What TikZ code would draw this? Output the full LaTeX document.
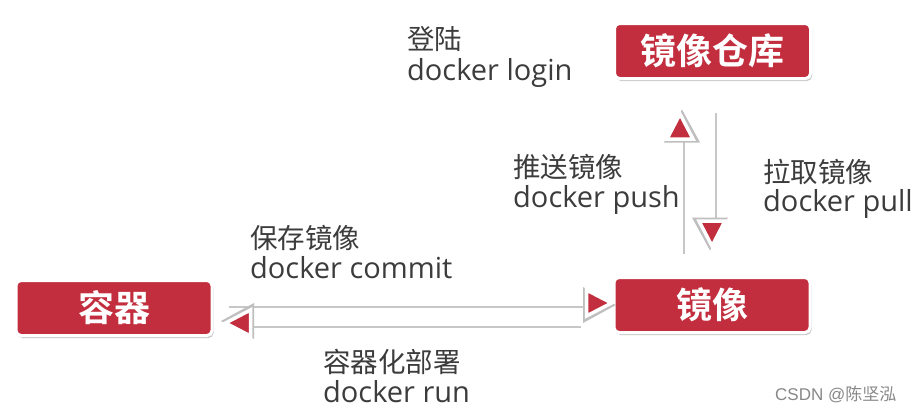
\documentclass[tikz,border=0pt]{standalone}
\usepackage{fontspec}
\setmainfont{Open Sans}
\newfontfamily\cjk{Noto Sans CJK SC}
\newfontfamily\cjkb{Noto Sans CJK SC Bold}
\newfontfamily\lsans{Liberation Sans}
\usetikzlibrary{shadows,calc}
\definecolor{boxred}{HTML}{C22E3E}
\definecolor{txt}{HTML}{3C3C3C}
\definecolor{wm}{HTML}{888888}
\newcommand{\zh}[1]{{\cjk\fontsize{27.5}{32}\selectfont #1}}
\tikzset{
  redbox/.style={rectangle, rounded corners=5pt, fill=boxred, draw=white, line width=3pt,
    minimum width=196pt, minimum height=55pt, inner sep=0pt, text=white,
    font=\cjkb\fontsize{36}{40}\selectfont,
    drop shadow={shadow xshift=1.5pt, shadow yshift=-2.5pt, opacity=0.35, fill=black!60}},
  lab/.style={anchor=base west, inner sep=0pt, text=txt, font=\fontsize{29}{32}\selectfont},
  shaftshadow/.style={line width=8.5pt, draw=black!22},
  shaft/.style={line width=6pt, draw=white},
  head/.pic={
    \fill[black!25] (1.5,-2) -- (-31.5,16) -- (-31.5,-20) -- cycle;
    \filldraw[fill=boxred, draw=white, line width=3.5pt, line join=miter] (-3,0) -- (-28,13) -- (-28,-13) -- cycle;
  }
}
\begin{document}
\begin{tikzpicture}[x=1pt,y=1pt]
\useasboundingbox[fill=white] (0,0) rectangle (920,-415);

% boxes
\node[redbox] (repo) at (712.5,-51) {镜像仓库};
\node[redbox] (cont) at (114,-308) {容器};
\node[redbox] (img)  at (712,-305) {镜像};

% arrow: commit (container -> image)
\coordinate (c1) at ($(cont.east)+(15,5)$);
\coordinate (c2) at ($(img.west)+(2,2)$);
\draw[shaftshadow] ($(c1)+(0,-1)$) -- ($(c2)+(-24,-1)$);
\draw[shaft] (c1) -- ($(c2)+(-24,0)$);
\pic at (c2) {head};

% arrow: run (image -> container)
\coordinate (r1) at ($(img.west)+(-32,-18)$);
\coordinate (r2) at ($(cont.east)+(9,-15)$);
\draw[shaftshadow] ($(r1)+(0,-1)$) -- ($(r2)+(24,-1)$);
\draw[shaft] (r1) -- ($(r2)+(24,0)$);
\pic[rotate=180] at (r2) {head};

% arrow: push (image -> repo)
\coordinate (p1) at ($(img.north)+(-32,22)$);
\coordinate (p2) at ($(repo.south)+(-32.5,-31)$);
\draw[shaftshadow] ($(p1)+(1,0)$) -- ($(p2)+(1,-24)$);
\draw[shaft] (p1) -- ($(p2)+(0,-24)$);
\pic[rotate=90] at (p2) {head};

% arrow: pull (repo -> image)
\coordinate (q1) at ($(repo.south)+(-0.5,-33)$);
\coordinate (q2) at ($(img.north)+(0,27)$);
\draw[shaftshadow] ($(q1)+(1,0)$) -- ($(q2)+(1,24)$);
\draw[shaft] (q1) -- ($(q2)+(0,24)$);
\pic[rotate=-90] at (q2) {head};

% labels
\node[lab] (l1a) at (407,-49) {\zh{登陆}};
\node[lab] (l1b) at (407,-80) {docker login};
\node[lab] (l2a) at (513,-177) {\zh{推送镜像}};
\node[lab] (l2b) at (513,-207) {docker push};
\node[lab] (l3a) at (763,-182) {\zh{拉取镜像}};
\node[lab] (l3b) at (763,-211) {docker pull};
\node[lab] (l4a) at (250,-248) {\zh{保存镜像}};
\node[lab] (l4b) at (250,-278) {docker commit};
\node[lab] (l5a) at (323,-372) {\zh{容器化部署}};
\node[lab] (l5b) at (323,-402) {docker run};

\node[anchor=base west, inner sep=0pt, text=wm, font=\lsans\fontsize{17}{20}\selectfont] (csdn) at (775,-400) {CSDN @{\cjk 陈坚泓}};
\end{tikzpicture}
\end{document}
